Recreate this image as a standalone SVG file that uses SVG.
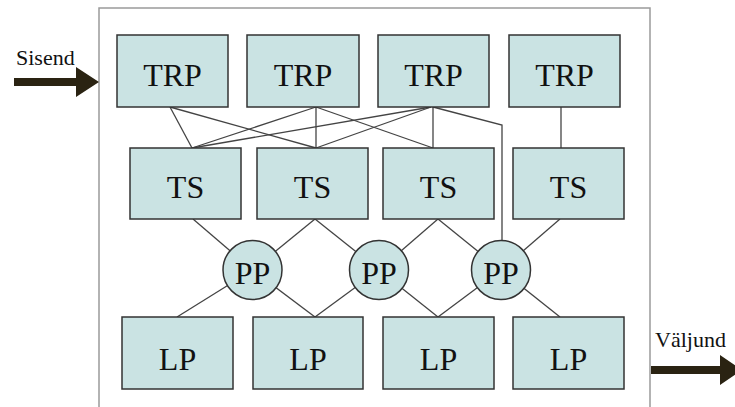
<svg xmlns="http://www.w3.org/2000/svg" width="735" height="407" viewBox="0 0 735 407">
<style>
.box{fill:#cae3e3;stroke:#333;stroke-width:1.5}
.lbl{font-family:"Liberation Serif","Times New Roman",serif;font-size:32px;fill:#111;text-anchor:middle}
.io{font-family:"Liberation Serif","Times New Roman",serif;font-size:22px;fill:#111}
.c{stroke:#444;stroke-width:1.3;fill:none}
.arr{fill:#2a2312}
</style>
<rect width="735" height="407" fill="#fff"/>
<rect x="99" y="8" width="551" height="420" fill="none" stroke="#9a9a9a" stroke-width="1.5"/>
<g id="connectors">
<line class="c" x1="170" y1="107" x2="192" y2="148"/>
<line class="c" x1="170" y1="107" x2="316" y2="148"/>
<line class="c" x1="316" y1="107" x2="192" y2="148"/>
<line class="c" x1="316" y1="107" x2="316" y2="148"/>
<line class="c" x1="316" y1="107" x2="433" y2="148"/>
<line class="c" x1="431" y1="107" x2="192" y2="148"/>
<line class="c" x1="431" y1="107" x2="316" y2="148"/>
<line class="c" x1="433" y1="107" x2="433" y2="148"/>
<polyline class="c" points="433,107 502,125 502,250"/>
<line class="c" x1="561" y1="107" x2="561" y2="148"/>
<line class="c" x1="193" y1="219" x2="252.5" y2="270"/>
<line class="c" x1="315" y1="219" x2="252.5" y2="270"/>
<line class="c" x1="315" y1="219" x2="379" y2="270"/>
<line class="c" x1="438" y1="219" x2="379" y2="270"/>
<line class="c" x1="438" y1="219" x2="501" y2="270"/>
<line class="c" x1="560" y1="219" x2="501" y2="270"/>
<line class="c" x1="252.5" y1="270" x2="177" y2="317"/>
<line class="c" x1="252.5" y1="270" x2="315" y2="317"/>
<line class="c" x1="379" y1="270" x2="315" y2="317"/>
<line class="c" x1="379" y1="270" x2="438" y2="317"/>
<line class="c" x1="501" y1="270" x2="438" y2="317"/>
<line class="c" x1="501" y1="270" x2="560" y2="317"/>
</g>
<g id="trp1"><rect class="box" x="117" y="35" width="111" height="72"/><text class="lbl" x="172.5" y="86">TRP</text></g>
<g id="trp2"><rect class="box" x="247" y="35" width="112" height="72"/><text class="lbl" x="303" y="86">TRP</text></g>
<g id="trp3"><rect class="box" x="378" y="35" width="111" height="72"/><text class="lbl" x="433.5" y="86">TRP</text></g>
<g id="trp4"><rect class="box" x="509" y="35" width="111" height="72"/><text class="lbl" x="564.5" y="86">TRP</text></g>
<g id="ts1"><rect class="box" x="130" y="148" width="111" height="71"/><text class="lbl" x="185.5" y="198">TS</text></g>
<g id="ts2"><rect class="box" x="257" y="148" width="111" height="71"/><text class="lbl" x="312.5" y="198">TS</text></g>
<g id="ts3"><rect class="box" x="383" y="148" width="111" height="71"/><text class="lbl" x="438.5" y="198">TS</text></g>
<g id="ts4"><rect class="box" x="513" y="148" width="111" height="71"/><text class="lbl" x="568.5" y="198">TS</text></g>
<g id="pp1"><circle class="box" cx="252.5" cy="270" r="29.5"/><text class="lbl" x="252.5" y="284">PP</text></g>
<g id="pp2"><circle class="box" cx="379" cy="270" r="29.5"/><text class="lbl" x="379" y="284">PP</text></g>
<g id="pp3"><circle class="box" cx="501" cy="270" r="29.5"/><text class="lbl" x="501" y="284">PP</text></g>
<g id="lp1"><rect class="box" x="122" y="317" width="111" height="72"/><text class="lbl" x="177.5" y="370">LP</text></g>
<g id="lp2"><rect class="box" x="253" y="317" width="110" height="72"/><text class="lbl" x="308" y="370">LP</text></g>
<g id="lp3"><rect class="box" x="383" y="317" width="111" height="72"/><text class="lbl" x="438.5" y="370">LP</text></g>
<g id="lp4"><rect class="box" x="513" y="317" width="111" height="72"/><text class="lbl" x="568.5" y="370">LP</text></g>
<g id="input">
<text class="io" x="16" y="65">Sisend</text>
<polygon class="arr" points="14,78 76,78 76,67 99,82 76,97 76,86 14,86"/>
</g>
<g id="output">
<text class="io" x="655" y="347">Väljund</text>
<polygon class="arr" points="651,366 720,366 720,355 742,370 720,385 720,374 651,374"/>
</g>
</svg>
